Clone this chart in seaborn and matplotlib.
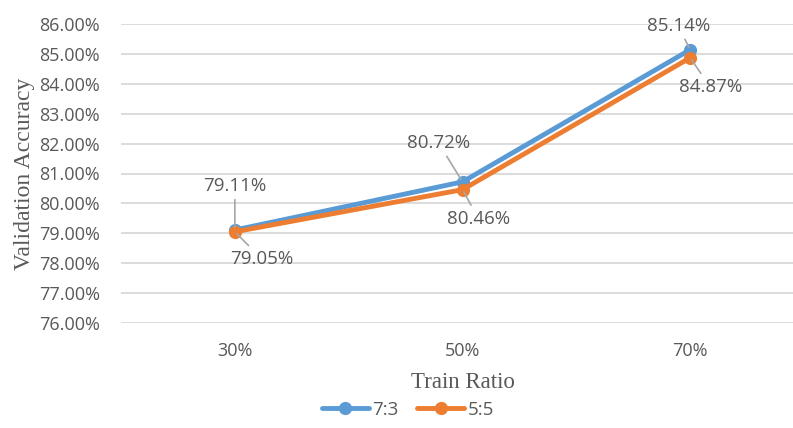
import matplotlib
matplotlib.use("Agg")
import matplotlib.pyplot as plt
import seaborn as sns
import pandas as pd
from matplotlib.ticker import FuncFormatter

categories = ["30%", "50%", "70%"]
series_names = ["7:3", "5:5"]
acc_73 = [79.11, 80.72, 85.14]
acc_55 = [79.05, 80.46, 84.87]
colors = ["#5B9BD5", "#ED7D31"]

df = pd.DataFrame({
    "Train Ratio": categories * 2,
    "acc": acc_73 + acc_55,
    "series": [series_names[0]] * 3 + [series_names[1]] * 3,
})

sns.set_theme(style="white")
plt.rcParams["font.family"] = ["Open Sans", "DejaVu Sans"]

fig = plt.figure(figsize=(7.93, 4.28), dpi=100)
ax = fig.add_axes([121 / 793, (428 - 323) / 428, (804 - 121) / 793, (323 - 24) / 428])

sns.lineplot(data=df, x="Train Ratio", y="acc", hue="series", hue_order=series_names,
             palette=colors, marker="o", markersize=9.5, markeredgewidth=0,
             linewidth=3.5, sort=False, ax=ax)

ax.set_ylim(76, 86)
ax.set_xlim(-0.5, 2.5)
ax.set_yticks([76 + i for i in range(11)])
ax.yaxis.set_major_formatter(FuncFormatter(lambda v, p: f"{v:.2f}%"))
ax.grid(axis="y", color="#D9D9D9", linewidth=1.3)
ax.set_axisbelow(True)
for s in ax.spines.values():
    s.set_visible(False)
ax.tick_params(axis="both", length=0, labelsize=13, labelcolor="#595959")
ax.tick_params(axis="y", pad=15)
ax.tick_params(axis="x", pad=14)

ax.set_ylabel("Validation Accuracy", family="Liberation Serif", fontsize=17, color="#595959", labelpad=3)
ax.set_xlabel("Train Ratio", family="Liberation Serif", fontsize=16.5, color="#595959", labelpad=8)

offs_73 = [(0, 44), (-24, 39), (-12, 24)]
offs_55 = [(27, -27), (16, -29), (20, -29)]
for vals, offs in ((acc_73, offs_73), (acc_55, offs_55)):
    for i, (v, o) in enumerate(zip(vals, offs)):
        ax.annotate(f"{v:.2f}%", xy=(i, v), xytext=o, textcoords="offset pixels",
                    ha="center", va="center", fontsize=13.5, color="#595959",
                    arrowprops=dict(arrowstyle="-", color="#A6A6A6", lw=1.2,
                                    shrinkA=1, shrinkB=2))

ax.legend_.remove()
handles, labels = ax.get_legend_handles_labels()
fig.legend(handles[:2], labels[:2], loc="center", bbox_to_anchor=(408 / 793, 1 - 410 / 428),
           ncol=2, frameon=False, fontsize=13.5, handlelength=2.5, columnspacing=1.0,
           handletextpad=0.2, labelcolor="#595959")

fig.savefig("out.png", dpi=100)
